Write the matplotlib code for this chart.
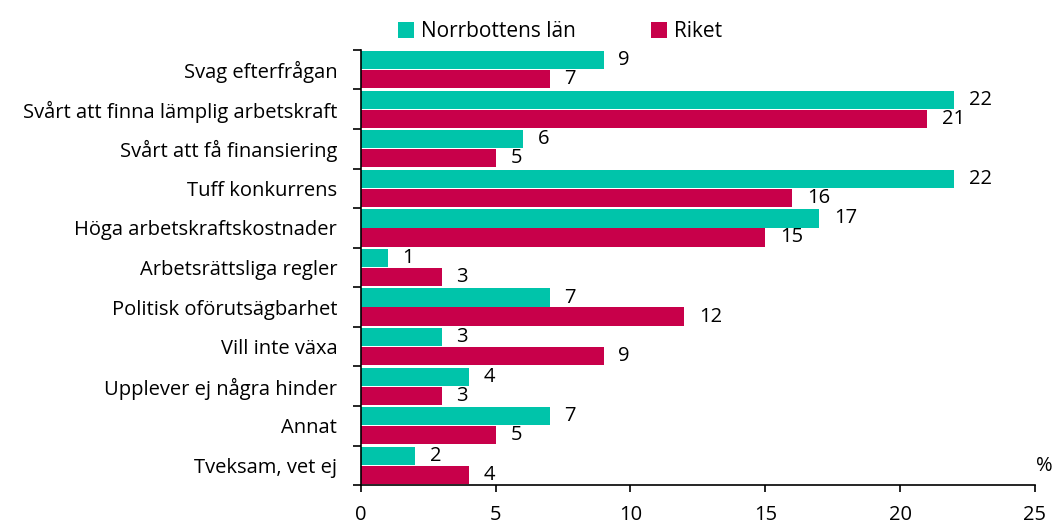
import numpy as np
import matplotlib.pyplot as plt
from matplotlib.ticker import FixedLocator

categories = ['Svag efterfrågan', 'Svårt att finna lämplig arbetskraft',
              'Svårt att få finansiering', 'Tuff konkurrens',
              'Höga arbetskraftskostnader', 'Arbetsrättsliga regler',
              'Politisk oförutsägbarhet', 'Vill inte växa',
              'Upplever ej några hinder', 'Annat', 'Tveksam, vet ej']
norrbotten = [9, 22, 6, 22, 17, 1, 7, 3, 4, 7, 2]
riket = [7, 21, 5, 16, 15, 3, 12, 9, 3, 5, 4]
series_names = ['Norrbottens län', 'Riket']

teal = '#00C4AA'
crimson = '#C8004A'

plt.rcParams['font.family'] = ['Open Sans', 'DejaVu Sans']

fig = plt.figure(figsize=(10.55, 5.25), dpi=100)
ax = fig.add_axes([0.342, 0.076, 0.639, 0.829])

y = np.arange(len(categories))
h = 0.46
b1 = ax.barh(y - h / 2 - 0.01, norrbotten, height=h, color=teal, label=series_names[0])
b2 = ax.barh(y + h / 2 + 0.01, riket, height=h, color=crimson, label=series_names[1])

for bars in (b1, b2):
    for rect in bars:
        w = rect.get_width()
        ax.text(w + 0.55, rect.get_y() + rect.get_height() / 2, f'{w:g}',
                va='center', ha='left', fontsize=14.5)

ax.set_ylim(len(categories) - 0.5, -0.5)
ax.set_xlim(0, 25)
ax.set_xticks([0, 5, 10, 15, 20, 25])
ax.tick_params(axis='x', labelsize=14.5, length=5, width=1.2, pad=9)
ax.set_yticks(y)
ax.set_yticklabels(categories)
ax.tick_params(axis='y', which='major', length=0, labelsize=14.5, pad=17)
ax.yaxis.set_minor_locator(FixedLocator(np.arange(-0.5, len(categories), 1)))
ax.tick_params(axis='y', which='minor', length=6, width=1.2)

for s in ['top', 'right']:
    ax.spines[s].set_visible(False)
for s in ['left', 'bottom']:
    ax.spines[s].set_linewidth(1.2)

ax.text(1.002, 0.02, '%', transform=ax.transAxes, fontsize=14.5, ha='left', va='bottom')

fig.legend(loc='upper center', bbox_to_anchor=(0.531, 0.995), ncol=2, frameon=False,
           fontsize=15, handlelength=0.75, handleheight=0.75, columnspacing=3.6,
           handletextpad=0.35)

fig.savefig('out.png', dpi=100)
